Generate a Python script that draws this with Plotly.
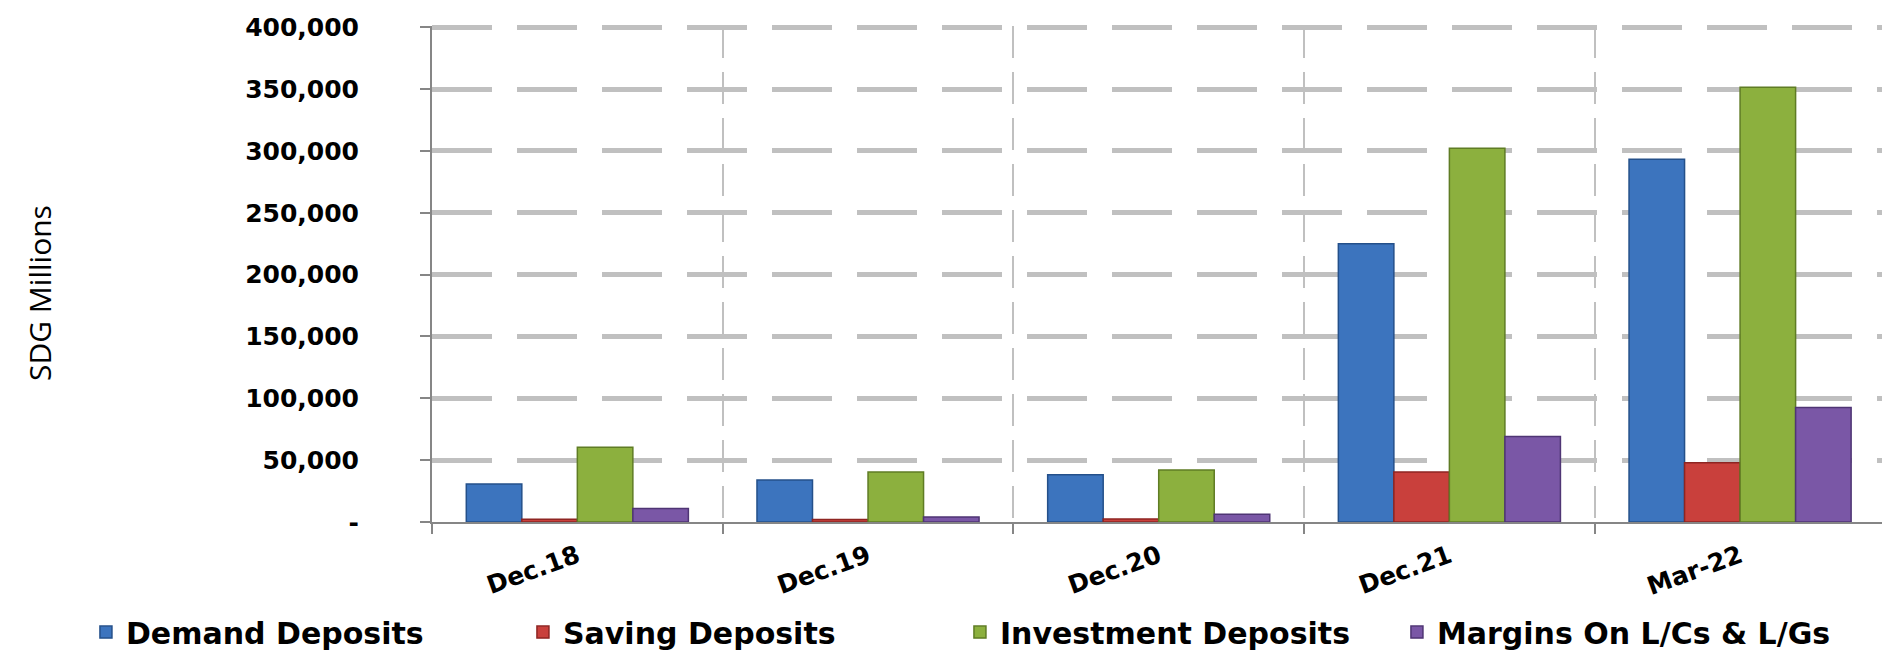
import plotly.graph_objects as go

periods = ["Dec.18", "Dec.19", "Dec.20", "Dec.21", "Mar-22"]
demand = [30650, 33900, 38100, 224900, 293200]
saving = [2200, 2000, 2500, 40400, 48000]
investment = [60400, 40500, 42000, 302200, 351500]
margins = [11000, 4100, 6300, 69200, 92500]

series_names = ["Demand Deposits", "Saving Deposits", "Investment Deposits", "Margins On L/Cs & L/Gs"]
y_tickvals = [0, 50000, 100000, 150000, 200000, 250000, 300000, 350000, 400000]
y_ticktext = ["-", "50,000", "100,000", "150,000", "200,000", "250,000", "300,000", "350,000", "400,000"]

fills = ["#3C74BE", "#C9403C", "#8CB03E", "#7A57A6"]
edges = ["#24508A", "#8E2522", "#5F7C24", "#4F3574"]

fig = go.Figure()
for name, vals, fc, ec in zip(series_names, [demand, saving, investment, margins], fills, edges):
    fig.add_trace(
        go.Bar(
            x=periods,
            y=vals,
            name=name,
            marker=dict(color=fc, line=dict(color=ec, width=1.5)),
        )
    )

fig.add_annotation(
    text="SDG Millions",
    textangle=-90,
    xref="paper",
    yref="paper",
    x=-0.285,
    y=0.462,
    showarrow=False,
    font=dict(family="Open Sans", size=30, color="#000000"),
)

fig.update_layout(
    width=1890,
    height=650,
    margin=dict(l=424, r=12, t=18, b=136, autoexpand=False),
    paper_bgcolor="white",
    plot_bgcolor="white",
    barmode="group",
    bargap=0.236,
    bargroupgap=0,
    font=dict(family="DejaVu Sans", color="#000000"),
    xaxis=dict(
        range=[-0.5, 4.502],
        tickson="boundaries",
        showgrid=True,
        gridcolor="#C0C0C0",
        gridwidth=2,
        griddash="32px,14px",
        showline=True,
        linecolor="#868686",
        linewidth=2,
        ticks="outside",
        ticklen=10,
        tickwidth=2,
        tickcolor="#868686",
        tickangle=-20,
        tickfont=dict(family="DejaVu Sans", size=25, color="#000000", weight="bold"),
        ticklabelstandoff=8,
    ),
    yaxis=dict(
        range=[0, 401000],
        tickvals=y_tickvals,
        ticktext=y_ticktext,
        showgrid=True,
        gridcolor="#C0C0C0",
        gridwidth=5,
        griddash="60px,25px",
        zeroline=False,
        showline=True,
        linecolor="#868686",
        linewidth=2,
        ticks="outside",
        ticklen=10,
        tickwidth=2,
        tickcolor="#868686",
        tickfont=dict(family="DejaVu Sans", size=25, color="#000000", weight="bold"),
        ticklabelstandoff=56,
    ),
    legend=dict(
        orientation="h",
        xref="paper",
        yref="paper",
        x=-0.238,
        y=-0.222,
        xanchor="left",
        yanchor="middle",
        font=dict(family="DejaVu Sans", size=30, color="#000000", weight="bold"),
        itemwidth=30,
        entrywidth=392,
        entrywidthmode="pixels",
        traceorder="normal",
    ),
    showlegend=True,
)

fig.write_html("out.html")
